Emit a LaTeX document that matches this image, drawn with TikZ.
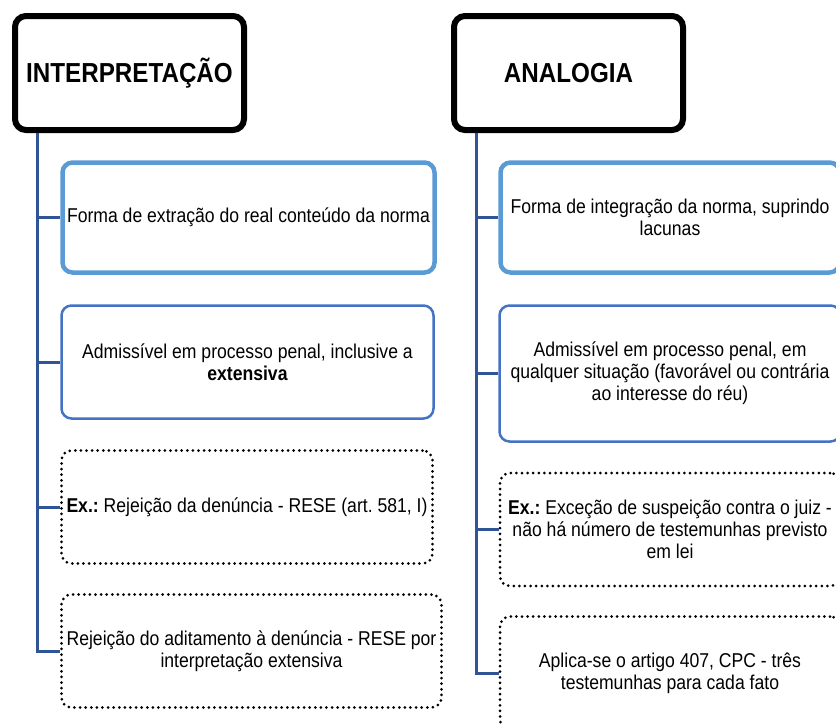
\documentclass[tikz,border=0pt]{standalone}
\usepackage{fontspec}
\setmainfont{Liberation Sans}[FakeStretch=0.88]
\frenchspacing
\definecolor{lineblue}{HTML}{2F5597}
\definecolor{lightblue}{HTML}{5B9BD5}
\definecolor{midblue}{HTML}{4472C4}
\tikzset{
    titlebox/.style={draw=black,line width=6pt,rounded corners=11pt,minimum width=229pt,minimum height=114pt,font=\fontsize{27.5}{30}\selectfont\bfseries},
    firstbox/.style={draw=lightblue,line width=4.5pt,rounded corners=10pt,minimum height=110pt,align=center,font=\fontsize{20}{22}\selectfont},
    secondbox/.style={draw=midblue,line width=2.5pt,rounded corners=10pt,align=center,font=\fontsize{20}{22}\selectfont},
    dotbox/.style={draw=black,line width=3pt,line cap=round,dash pattern=on 0pt off 5.6pt,rounded corners=10pt,minimum height=113pt,align=center,font=\fontsize{20}{22}\selectfont},
    branch/.style={draw=lineblue,line width=3pt}
}
\begin{document}
\begin{tikzpicture}[x=1pt,y=-1pt]
    \useasboundingbox (0,0) rectangle (836,724);
    \clip (0,0) rectangle (836,724);
    % left column
    \node [titlebox] (hdrL) at (129.5,73) {INTERPRETAÇÃO};
    \node [firstbox,minimum width=372pt] (l1) at (248.5,217.5) {Forma de extração do real conteúdo da norma};
    \node [secondbox,minimum width=372pt,minimum height=113pt] (l2) at (247.5,362) {Admissível em processo penal, inclusive a\\\textbf{extensiva}};
    \node [dotbox,minimum width=371pt] (l3) at (247,507) {\textbf{Ex.:} Rejeição da denúncia - RESE (art. 581, I)};
    \node [dotbox,minimum width=380pt] (l4) at (251.5,651) {Rejeição do aditamento à denúncia - RESE por\\interpretação extensiva};
    \coordinate (trunkL) at (37,133);
    \draw [branch] (trunkL) |- (l4.west);
    \foreach \b in {l1,l2,l3}
        \draw [branch] (trunkL |- \b.west) -- (\b.west);
    % right column
    \node [titlebox] (hdrR) at (568.5,73) {ANALOGIA};
    \node [firstbox,minimum width=339pt] (r1) at (670,217.5) {Forma de integração da norma, suprindo\\lacunas};
    \node [secondbox,minimum width=341pt,minimum height=136pt] (r2) at (670,373.5) {Admissível em processo penal, em\\qualquer situação (favorável ou contrária\\ao interesse do réu)};
    \node [dotbox,minimum width=340pt] (r3) at (670,529.5) {\textbf{Ex.:} Exceção de suspeição contra o juiz -\\não há número de testemunhas previsto\\em lei};
    \node [dotbox,minimum width=340pt] (r4) at (670,673) {Aplica-se o artigo 407, CPC - três\\testemunhas para cada fato};
    \coordinate (trunkR) at (476,133);
    \draw [branch] (trunkR) |- (r4.west);
    \foreach \b in {r1,r2,r3}
        \draw [branch] (trunkR |- \b.west) -- (\b.west);
\end{tikzpicture}
\end{document}
